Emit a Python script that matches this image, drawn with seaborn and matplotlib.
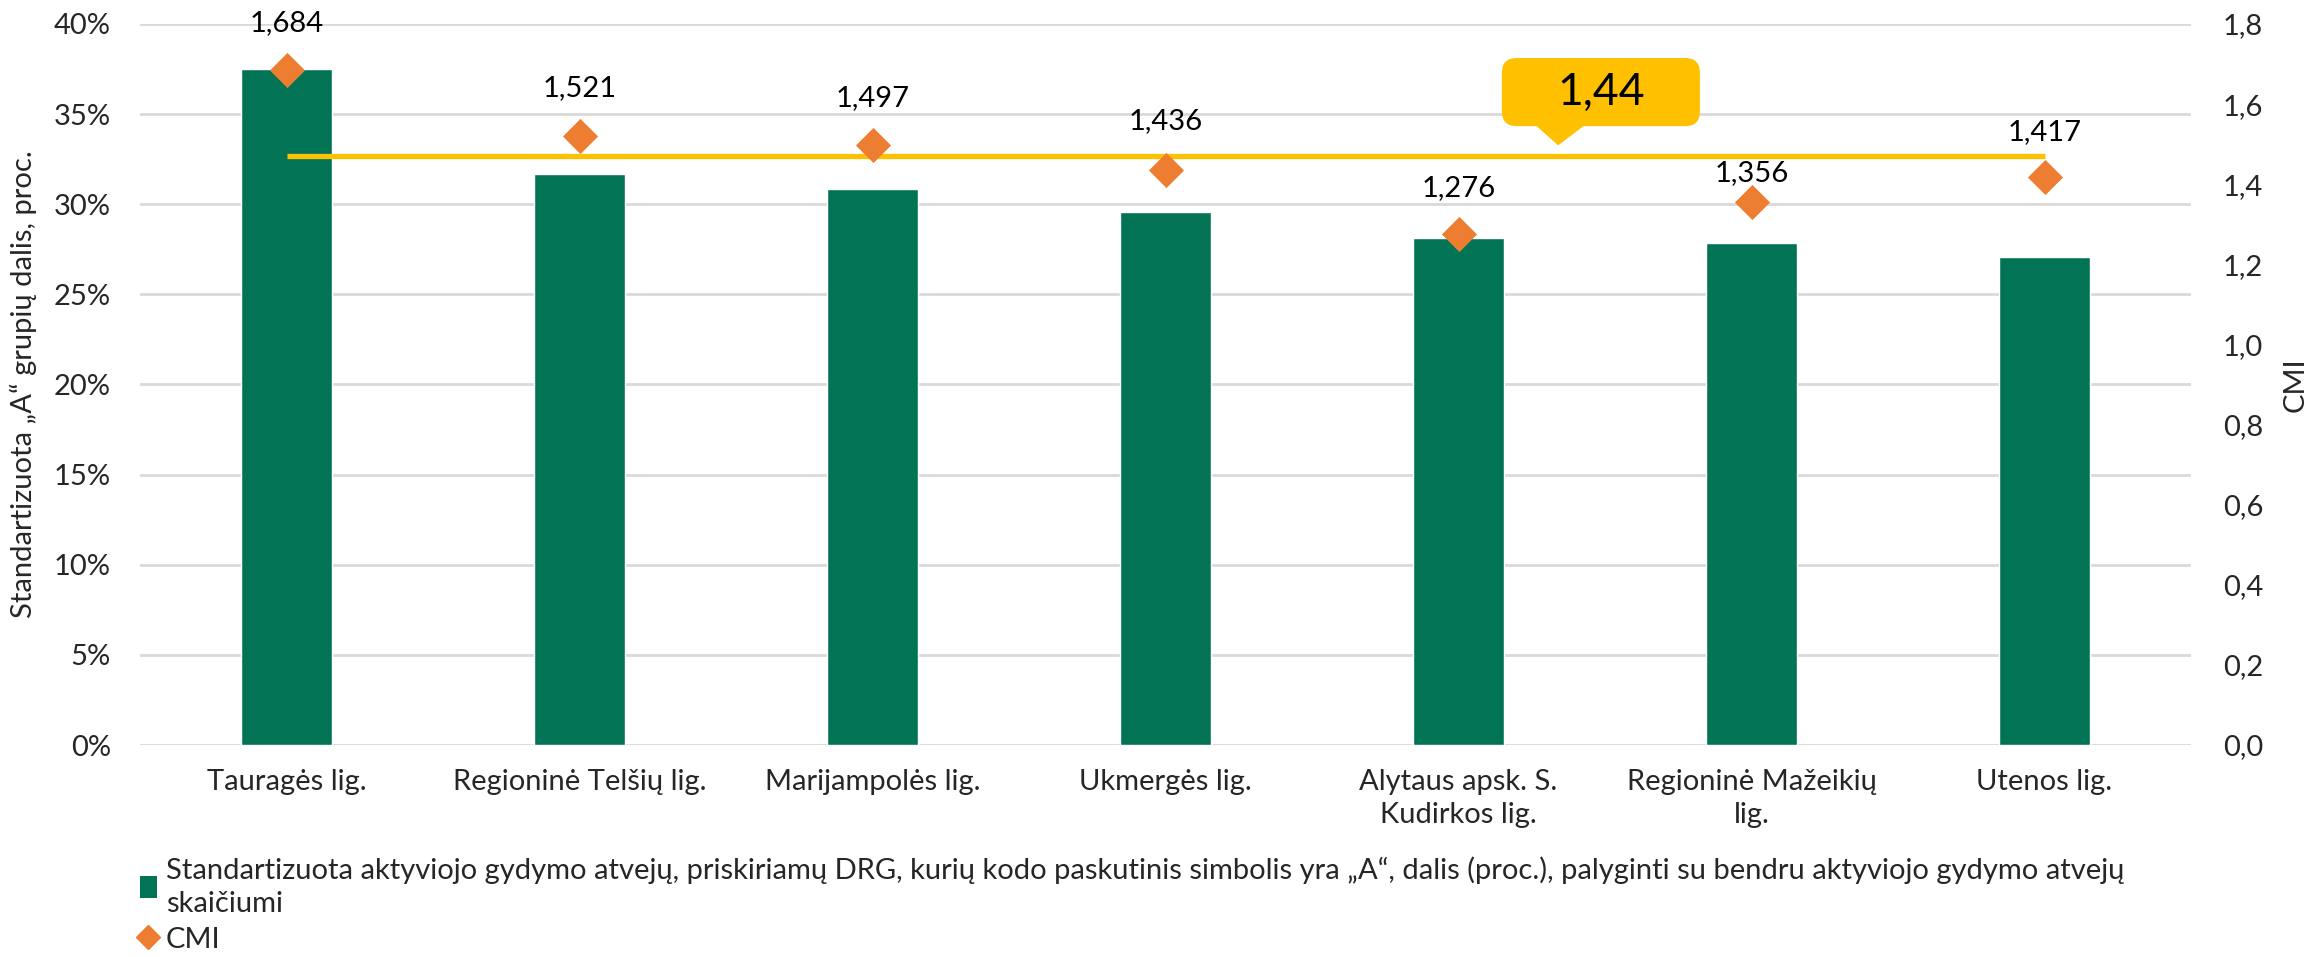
import matplotlib
matplotlib.use("Agg")
import matplotlib.pyplot as plt
import seaborn as sns
import pandas as pd
from matplotlib.patches import FancyBboxPatch, Polygon, Patch
from matplotlib.lines import Line2D
from matplotlib.ticker import FixedLocator

categories = ["Tauragės lig.", "Regioninė Telšių lig.", "Marijampolės lig.", "Ukmergės lig.",
              "Alytaus apsk. S.\nKudirkos lig.", "Regioninė Mažeikių\nlig.", "Utenos lig."]
share_pct = [37.5, 31.7, 30.85, 29.55, 28.1, 27.85, 27.05]
cmi = [1.684, 1.521, 1.497, 1.436, 1.276, 1.356, 1.417]
cmi_labels = ["1,684", "1,521", "1,497", "1,436", "1,276", "1,356", "1,417"]
avg_line_value = 1.47
avg_label = "1,44"
left_ticks = [0, 5, 10, 15, 20, 25, 30, 35, 40]
left_ticklabels = ["0%", "5%", "10%", "15%", "20%", "25%", "30%", "35%", "40%"]
right_ticks = [0.0, 0.2, 0.4, 0.6, 0.8, 1.0, 1.2, 1.4, 1.6, 1.8]
right_ticklabels = ["0,0", "0,2", "0,4", "0,6", "0,8", "1,0", "1,2", "1,4", "1,6", "1,8"]
legend_bar = ("Standartizuota aktyviojo gydymo atvejų, priskiriamų DRG, kurių kodo paskutinis simbolis yra „A“, "
              "dalis (proc.), palyginti su bendru aktyviojo gydymo atvejų\nskaičiumi")
legend_cmi = "CMI"
ylabel_left = "Standartizuota „A“ grupių dalis, proc."
ylabel_right = "CMI"

GREEN = "#027455"
ORANGE = "#ED7D31"
YELLOW = "#FFC000"
GRID = "#D9D9D9"
FS = 21

sns.set_theme(style="white")
plt.rcParams['font.family'] = ['Lato', 'DejaVu Sans']

df = pd.DataFrame({"cat": categories, "share": share_pct, "cmi": cmi})

fig = plt.figure(figsize=(23.18, 9.57), dpi=100)
ax = fig.add_axes([140/2318, 1-745/957, (2191-140)/2318, (745-24)/957])

sns.barplot(data=df, x="cat", y="share", color=GREEN, width=0.31, saturation=1, ax=ax)
ax.set_ylim(0, 40)
ax.set_xlim(-0.5, len(categories)-0.5)
ax.yaxis.set_major_locator(FixedLocator(left_ticks))
ax.set_yticklabels(left_ticklabels, fontsize=FS)
ax.tick_params(axis='x', labelsize=FS, pad=17, length=0)
ax.tick_params(axis='y', length=0, pad=21)
for t in ax.get_xticklabels():
    t.set_linespacing(1.35)
ax.set_xlabel("")
ax.set_ylabel(ylabel_left, fontsize=FS, labelpad=12)
ax.grid(axis='y', color=GRID, linewidth=2)
ax.set_axisbelow(True)
for s in ax.spines.values():
    s.set_visible(False)

ax2 = ax.twinx()
ax2.set_ylim(0, 1.8)
ax2.yaxis.set_major_locator(FixedLocator(right_ticks))
ax2.set_yticklabels(right_ticklabels, fontsize=FS)
ax2.tick_params(axis='y', length=0, pad=23)
ax2.set_ylabel(ylabel_right, fontsize=FS, labelpad=14)
for s in ax2.spines.values():
    s.set_visible(False)

x_idx = list(range(len(categories)))
ax2.plot([x_idx[0], x_idx[-1]], [avg_line_value, avg_line_value], color=YELLOW, lw=3.8, zorder=3,
         solid_capstyle='butt')
ax2.scatter(x_idx, cmi, marker='D', s=320, color=ORANGE, zorder=4, linewidths=0)

label_offsets = [34, 34, 34, 35, 33, 21, 33]
for xi, v, lab, off in zip(x_idx, cmi, cmi_labels, label_offsets):
    ax2.annotate(lab, (xi, v), xytext=(0, off), textcoords='offset points',
                 ha='center', va='center', fontsize=FS, color='black', zorder=5)

# callout box
bx0, bx1 = 4.148, 4.824
by0, by1 = 1.545, 1.715
box = FancyBboxPatch((bx0, by0), bx1-bx0, by1-by0,
                     boxstyle="round,pad=0,rounding_size=0.05", mutation_aspect=0.75,
                     facecolor=YELLOW, edgecolor='none', zorder=6)
ax2.add_patch(box)
ax2.add_patch(Polygon([[4.264, by0+0.002], [4.43, by0+0.002], [4.34, 1.497]], closed=True,
                      facecolor=YELLOW, edgecolor='none', zorder=6))
ax2.text((bx0+bx1)/2, (by0+by1)/2, avg_label, ha='center', va='center', fontsize=32,
         color='black', zorder=7)

handles = [Patch(facecolor=GREEN, edgecolor='none'),
           Line2D([], [], marker='D', color=ORANGE, linestyle='none', markersize=12)]
leg = fig.legend(handles, [legend_bar, legend_cmi], loc='upper left',
                 bbox_to_anchor=(128/2318, 1-845/957), frameon=False, fontsize=FS,
                 handlelength=0.6, handleheight=0.8, handletextpad=0.3, labelspacing=0.35,
                 borderaxespad=0)
for t in leg.get_texts():
    t.set_linespacing(1.3)

fig.savefig("out.png", dpi=100)
